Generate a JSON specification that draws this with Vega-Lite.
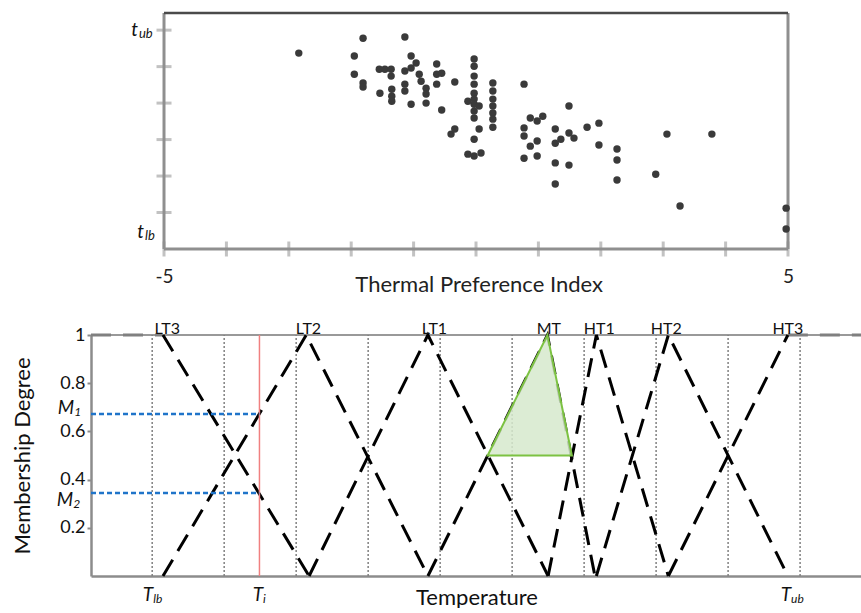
{
  "$schema": "https://vega.github.io/schema/vega-lite/v6.json",
  "padding": {"left": 11, "top": 11, "right": 0, "bottom": 0},
  "bounds": "flush",
  "spacing": 86,
  "config": {"view": {"stroke": null}, "font": "Lato", "axis": {"grid": false}},
  "datasets": {
    "pts": [
      {"tpi": -2.84, "temp": 5.37}, {"tpi": -1.81, "temp": 5.78}, {"tpi": -1.14, "temp": 5.81}, {"tpi": -1.95, "temp": 5.29},
      {"tpi": -1.95, "temp": 4.79}, {"tpi": -1.81, "temp": 4.55}, {"tpi": -1.81, "temp": 4.44}, {"tpi": -1.54, "temp": 4.27},
      {"tpi": -1.55, "temp": 4.93}, {"tpi": -1.46, "temp": 4.93}, {"tpi": -1.36, "temp": 4.93}, {"tpi": -1.36, "temp": 4.74},
      {"tpi": -1.35, "temp": 4.38}, {"tpi": -1.35, "temp": 4.19}, {"tpi": -1.35, "temp": 4.05}, {"tpi": -1.14, "temp": 4.88},
      {"tpi": -1.14, "temp": 4.52}, {"tpi": -1.14, "temp": 4.33}, {"tpi": -1.04, "temp": 5.29}, {"tpi": -1.04, "temp": 4.96},
      {"tpi": -1.04, "temp": 3.97}, {"tpi": -0.96, "temp": 5.10}, {"tpi": -0.91, "temp": 4.79}, {"tpi": -0.88, "temp": 4.60},
      {"tpi": -0.80, "temp": 4.41}, {"tpi": -0.80, "temp": 4.25}, {"tpi": -0.80, "temp": 4.00}, {"tpi": -0.63, "temp": 5.07},
      {"tpi": -0.63, "temp": 4.79}, {"tpi": -0.63, "temp": 4.52}, {"tpi": -0.55, "temp": 4.82}, {"tpi": -0.34, "temp": 4.58},
      {"tpi": -0.55, "temp": 3.81}, {"tpi": -0.40, "temp": 3.15}, {"tpi": -0.34, "temp": 3.29}, {"tpi": -0.03, "temp": 5.21},
      {"tpi": -0.03, "temp": 5.01}, {"tpi": -0.03, "temp": 4.74}, {"tpi": -0.03, "temp": 4.52}, {"tpi": -0.03, "temp": 4.27},
      {"tpi": -0.03, "temp": 4.11}, {"tpi": -0.03, "temp": 3.97}, {"tpi": -0.03, "temp": 3.78}, {"tpi": -0.03, "temp": 3.59},
      {"tpi": -0.13, "temp": 4.05}, {"tpi": 0.05, "temp": 3.92}, {"tpi": 0.05, "temp": 3.29}, {"tpi": -0.03, "temp": 3.01},
      {"tpi": -0.13, "temp": 2.60}, {"tpi": -0.03, "temp": 2.55}, {"tpi": 0.08, "temp": 2.63}, {"tpi": 0.27, "temp": 4.55},
      {"tpi": 0.27, "temp": 4.33}, {"tpi": 0.27, "temp": 4.11}, {"tpi": 0.27, "temp": 3.92}, {"tpi": 0.27, "temp": 3.73},
      {"tpi": 0.27, "temp": 3.56}, {"tpi": 0.27, "temp": 3.34}, {"tpi": 0.77, "temp": 4.52}, {"tpi": 0.87, "temp": 3.59},
      {"tpi": 0.98, "temp": 3.51}, {"tpi": 1.07, "temp": 3.64}, {"tpi": 0.77, "temp": 3.32}, {"tpi": 0.77, "temp": 3.10},
      {"tpi": 0.77, "temp": 2.49}, {"tpi": 0.87, "temp": 2.82}, {"tpi": 0.98, "temp": 2.96}, {"tpi": 0.98, "temp": 2.55},
      {"tpi": 1.27, "temp": 3.29}, {"tpi": 1.27, "temp": 2.90}, {"tpi": 1.27, "temp": 2.36}, {"tpi": 1.27, "temp": 1.78},
      {"tpi": 1.36, "temp": 3.01}, {"tpi": 1.49, "temp": 3.92}, {"tpi": 1.49, "temp": 3.18}, {"tpi": 1.57, "temp": 3.04},
      {"tpi": 1.49, "temp": 2.30}, {"tpi": 1.78, "temp": 3.34}, {"tpi": 1.97, "temp": 3.45}, {"tpi": 1.97, "temp": 2.85},
      {"tpi": 2.26, "temp": 2.74}, {"tpi": 2.26, "temp": 2.44}, {"tpi": 2.26, "temp": 1.89}, {"tpi": 2.88, "temp": 2.05},
      {"tpi": 3.06, "temp": 3.15}, {"tpi": 3.27, "temp": 1.18}, {"tpi": 3.78, "temp": 3.15}, {"tpi": 4.97, "temp": 1.12},
      {"tpi": 4.97, "temp": 0.55}
    ],
    "ytick": [{"v": 1}, {"v": 2}, {"v": 3}, {"v": 4}, {"v": 5}, {"v": 6}],
    "xtick": [{"v": -5}, {"v": -4}, {"v": -3}, {"v": -2}, {"v": -1}, {"v": 0}, {"v": 1}, {"v": 2}, {"v": 3}, {"v": 4}, {"v": 5}],
    "tlab": [
      {"lx": -5.417, "ly": 5.84, "main": "t", "sub": "ub"},
      {"lx": -5.32, "ly": 0.30, "main": "t", "sub": "lb"}
    ],
    "vlines": [{"t": 0}, {"t": 1}, {"t": 2}, {"t": 3}, {"t": 4}, {"t": 5}, {"t": 6}, {"t": 7}, {"t": 8}, {"t": 9}],
    "shoulders": [{"t": -0.85, "t2": 0.15}, {"t": 8.83, "t2": 9.86}],
    "mf": [
      {"f": "LT3", "t": 0.15, "m": 1}, {"f": "LT3", "t": 2.18, "m": 0},
      {"f": "LT2", "t": 0.15, "m": 0}, {"f": "LT2", "t": 2.14, "m": 1}, {"f": "LT2", "t": 3.83, "m": 0},
      {"f": "LT1", "t": 2.18, "m": 0}, {"f": "LT1", "t": 3.83, "m": 1}, {"f": "LT1", "t": 5.5, "m": 0},
      {"f": "MT", "t": 3.83, "m": 0}, {"f": "MT", "t": 5.49, "m": 1}, {"f": "MT", "t": 6.15, "m": 0},
      {"f": "HT1", "t": 5.5, "m": 0}, {"f": "HT1", "t": 6.17, "m": 1}, {"f": "HT1", "t": 7.17, "m": 0},
      {"f": "HT2", "t": 6.17, "m": 0}, {"f": "HT2", "t": 7.17, "m": 1}, {"f": "HT2", "t": 8.83, "m": 0},
      {"f": "HT3", "t": 7.17, "m": 0}, {"f": "HT3", "t": 8.83, "m": 1}
    ],
    "mlines": [{"m": 0.672}, {"m": 0.344}],
    "tri": [{"t": 4.66, "m": 0.5}, {"t": 5.49, "m": 1}, {"t": 5.83, "m": 0.5}],
    "mflab": [
      {"name": "LT3", "t": 0.21}, {"name": "LT2", "t": 2.17}, {"name": "LT1", "t": 3.92}, {"name": "MT", "t": 5.51},
      {"name": "HT1", "t": 6.21}, {"name": "HT2", "t": 7.14}, {"name": "HT3", "t": 8.83}
    ],
    "blab": [
      {"t": 0.014, "m": -0.104, "main": "T", "sub": "lb"},
      {"t": 1.54, "m": -0.104, "main": "T", "sub": "i"},
      {"t": 8.875, "m": -0.104, "main": "T", "sub": "ub"},
      {"t": -1.083, "m": 0.672, "main": "M", "sub": "1"},
      {"t": -1.097, "m": 0.29, "main": "M", "sub": "2"}
    ]
  },
  "vconcat": [
    {
      "width": 697,
      "height": 236,
      "layer": [
        {
          "data": {"name": "ytick"},
          "mark": {"type": "tick", "orient": "horizontal", "color": "#a8a8a8", "size": 15, "thickness": 3},
          "encoding": {
            "x": {"datum": -5, "type": "quantitative", "scale": {"domain": [-6.17, 5], "nice": false}, "axis": {"values": [-5, 5], "labelExpr": "datum.value < 0 ? '-5' : '5'", "domain": false, "ticks": false, "labelFlush": false, "labelFontSize": 19, "labelPadding": 18, "labelColor": "#222", "title": null}},
            "y": {"field": "v", "type": "quantitative", "scale": {"domain": [0, 6.47], "nice": false}, "axis": null}
          }
        },
        {
          "data": {"name": "xtick"},
          "mark": {"type": "tick", "orient": "vertical", "color": "#a8a8a8", "size": 15, "thickness": 3},
          "encoding": {
            "x": {"field": "v", "type": "quantitative", "scale": {"domain": [-6.17, 5], "nice": false}, "axis": {"values": [-5, 5], "labelExpr": "datum.value < 0 ? '-5' : '5'", "domain": false, "ticks": false, "labelFlush": false, "labelFontSize": 19, "labelPadding": 18, "labelColor": "#222", "title": null}},
            "y": {"datum": 0, "type": "quantitative", "scale": {"domain": [0, 6.47], "nice": false}, "axis": null}
          }
        },
        {
          "data": {"values": [{"a": -5}, {"a": 5}]},
          "mark": {"type": "rule", "color": "#8f8f8f", "strokeWidth": 3},
          "encoding": {
            "x": {"field": "a", "type": "quantitative", "scale": {"domain": [-6.17, 5], "nice": false}, "axis": {"values": [-5, 5], "labelExpr": "datum.value < 0 ? '-5' : '5'", "domain": false, "ticks": false, "labelFlush": false, "labelFontSize": 19, "labelPadding": 18, "labelColor": "#222", "title": null}},
            "y": {"datum": 0, "type": "quantitative", "scale": {"domain": [0, 6.47], "nice": false}, "axis": null},
            "y2": {"datum": 6.47}
          }
        },
        {
          "data": {"values": [{}]},
          "mark": {"type": "rule", "color": "#8f8f8f", "strokeWidth": 3},
          "encoding": {
            "x": {"datum": -5, "type": "quantitative", "scale": {"domain": [-6.17, 5], "nice": false}, "axis": {"values": [-5, 5], "labelExpr": "datum.value < 0 ? '-5' : '5'", "domain": false, "ticks": false, "labelFlush": false, "labelFontSize": 19, "labelPadding": 18, "labelColor": "#222", "title": null}},
            "x2": {"datum": 5},
            "y": {"datum": 0, "type": "quantitative", "scale": {"domain": [0, 6.47], "nice": false}, "axis": null}
          }
        },
        {
          "data": {"values": [{}]},
          "mark": {"type": "rule", "color": "#4a4a4a", "strokeWidth": 2.5},
          "encoding": {
            "x": {"datum": -5, "type": "quantitative", "scale": {"domain": [-6.17, 5], "nice": false}, "axis": {"values": [-5, 5], "labelExpr": "datum.value < 0 ? '-5' : '5'", "domain": false, "ticks": false, "labelFlush": false, "labelFontSize": 19, "labelPadding": 18, "labelColor": "#222", "title": null}},
            "x2": {"datum": 5},
            "y": {"datum": 6.47, "type": "quantitative", "scale": {"domain": [0, 6.47], "nice": false}, "axis": null}
          }
        },
        {
          "data": {"name": "pts"},
          "mark": {"type": "circle", "color": "#3a3a3a", "size": 55, "opacity": 1},
          "encoding": {
            "x": {"field": "tpi", "type": "quantitative", "scale": {"domain": [-6.17, 5], "nice": false}, "axis": {"values": [-5, 5], "labelExpr": "datum.value < 0 ? '-5' : '5'", "domain": false, "ticks": false, "labelFlush": false, "labelFontSize": 19, "labelPadding": 18, "labelColor": "#222", "title": null}},
            "y": {"field": "temp", "type": "quantitative", "scale": {"domain": [0, 6.47], "nice": false}, "axis": null}
          }
        },
        {
          "data": {"name": "tlab"},
          "mark": {"type": "text", "align": "right", "baseline": "alphabetic", "fontSize": 19, "fontStyle": "italic", "color": "#111"},
          "encoding": {
            "x": {"field": "lx", "type": "quantitative", "scale": {"domain": [-6.17, 5], "nice": false}, "axis": {"values": [-5, 5], "labelExpr": "datum.value < 0 ? '-5' : '5'", "domain": false, "ticks": false, "labelFlush": false, "labelFontSize": 19, "labelPadding": 18, "labelColor": "#222", "title": null}},
            "y": {"field": "ly", "type": "quantitative", "scale": {"domain": [0, 6.47], "nice": false}, "axis": null},
            "text": {"field": "main"}
          }
        },
        {
          "data": {"name": "tlab"},
          "mark": {"type": "text", "align": "left", "baseline": "alphabetic", "fontSize": 13, "fontStyle": "italic", "color": "#111", "dx": 1, "dy": 2},
          "encoding": {
            "x": {"field": "lx", "type": "quantitative", "scale": {"domain": [-6.17, 5], "nice": false}, "axis": {"values": [-5, 5], "labelExpr": "datum.value < 0 ? '-5' : '5'", "domain": false, "ticks": false, "labelFlush": false, "labelFontSize": 19, "labelPadding": 18, "labelColor": "#222", "title": null}},
            "y": {"field": "ly", "type": "quantitative", "scale": {"domain": [0, 6.47], "nice": false}, "axis": null},
            "text": {"field": "sub"}
          }
        },
        {
          "data": {"values": [{"label": "Thermal Preference Index"}]},
          "mark": {"type": "text", "align": "center", "baseline": "middle", "fontSize": 22, "color": "#222"},
          "encoding": {
            "x": {"datum": 0.05, "type": "quantitative", "scale": {"domain": [-6.17, 5], "nice": false}, "axis": {"values": [-5, 5], "labelExpr": "datum.value < 0 ? '-5' : '5'", "domain": false, "ticks": false, "labelFlush": false, "labelFontSize": 19, "labelPadding": 18, "labelColor": "#222", "title": null}},
            "y": {"datum": -0.98, "type": "quantitative", "scale": {"domain": [0, 6.47], "nice": false}, "axis": null},
            "text": {"field": "label"}
          }
        }
      ]
    },
    {
      "width": 771,
      "height": 241,
      "layer": [
        {
          "data": {"values": [{}]},
          "mark": {"type": "rule", "color": "#999999", "strokeWidth": 2},
          "encoding": {
            "x": {"datum": -0.85, "type": "quantitative", "scale": {"domain": [-0.85, 9.86], "nice": false}, "axis": {"domainColor": "#8c8c8c", "domainWidth": 2.5, "ticks": false, "labels": false, "title": "Temperature", "titleFontSize": 22, "titleFontWeight": "normal", "titleColor": "#111", "titlePadding": 11}},
            "x2": {"datum": 9.86},
            "y": {"datum": 1, "type": "quantitative", "scale": {"domain": [0, 1], "nice": false}, "axis": {"values": [0.2, 0.4, 0.6, 0.8, 1], "labelExpr": "datum.value == 1 ? '1' : format(datum.value, '.1f')", "domainColor": "#8c8c8c", "domainWidth": 2.5, "tickColor": "#8c8c8c", "tickSize": 4, "tickWidth": 2, "labelFontSize": 18, "labelColor": "#111", "labelPadding": 2, "title": "Membership Degree", "titleFontSize": 22, "titleFontWeight": "normal", "titleColor": "#111", "titlePadding": 25}}
          }
        },
        {
          "data": {"name": "vlines"},
          "mark": {"type": "rule", "color": "#808080", "strokeWidth": 1.5, "strokeDash": [2, 2]},
          "encoding": {
            "x": {"field": "t", "type": "quantitative", "scale": {"domain": [-0.85, 9.86], "nice": false}, "axis": {"domainColor": "#8c8c8c", "domainWidth": 2.5, "ticks": false, "labels": false, "title": "Temperature", "titleFontSize": 22, "titleFontWeight": "normal", "titleColor": "#111", "titlePadding": 11}},
            "y": {"datum": 0, "type": "quantitative", "scale": {"domain": [0, 1], "nice": false}, "axis": {"values": [0.2, 0.4, 0.6, 0.8, 1], "labelExpr": "datum.value == 1 ? '1' : format(datum.value, '.1f')", "domainColor": "#8c8c8c", "domainWidth": 2.5, "tickColor": "#8c8c8c", "tickSize": 4, "tickWidth": 2, "labelFontSize": 18, "labelColor": "#111", "labelPadding": 2, "title": "Membership Degree", "titleFontSize": 22, "titleFontWeight": "normal", "titleColor": "#111", "titlePadding": 25}},
            "y2": {"datum": 1}
          }
        },
        {
          "data": {"name": "shoulders"},
          "mark": {"type": "rule", "color": "#808080", "strokeWidth": 3, "strokeDash": [20, 12]},
          "encoding": {
            "x": {"field": "t", "type": "quantitative", "scale": {"domain": [-0.85, 9.86], "nice": false}, "axis": {"domainColor": "#8c8c8c", "domainWidth": 2.5, "ticks": false, "labels": false, "title": "Temperature", "titleFontSize": 22, "titleFontWeight": "normal", "titleColor": "#111", "titlePadding": 11}},
            "x2": {"field": "t2"},
            "y": {"datum": 1, "type": "quantitative", "scale": {"domain": [0, 1], "nice": false}, "axis": {"values": [0.2, 0.4, 0.6, 0.8, 1], "labelExpr": "datum.value == 1 ? '1' : format(datum.value, '.1f')", "domainColor": "#8c8c8c", "domainWidth": 2.5, "tickColor": "#8c8c8c", "tickSize": 4, "tickWidth": 2, "labelFontSize": 18, "labelColor": "#111", "labelPadding": 2, "title": "Membership Degree", "titleFontSize": 22, "titleFontWeight": "normal", "titleColor": "#111", "titlePadding": 25}}
          }
        },
        {
          "data": {"name": "mf"},
          "mark": {"type": "line", "color": "#000000", "strokeWidth": 3, "strokeDash": [19, 10]},
          "encoding": {
            "x": {"field": "t", "type": "quantitative", "scale": {"domain": [-0.85, 9.86], "nice": false}, "axis": {"domainColor": "#8c8c8c", "domainWidth": 2.5, "ticks": false, "labels": false, "title": "Temperature", "titleFontSize": 22, "titleFontWeight": "normal", "titleColor": "#111", "titlePadding": 11}},
            "y": {"field": "m", "type": "quantitative", "scale": {"domain": [0, 1], "nice": false}, "axis": {"values": [0.2, 0.4, 0.6, 0.8, 1], "labelExpr": "datum.value == 1 ? '1' : format(datum.value, '.1f')", "domainColor": "#8c8c8c", "domainWidth": 2.5, "tickColor": "#8c8c8c", "tickSize": 4, "tickWidth": 2, "labelFontSize": 18, "labelColor": "#111", "labelPadding": 2, "title": "Membership Degree", "titleFontSize": 22, "titleFontWeight": "normal", "titleColor": "#111", "titlePadding": 25}},
            "detail": {"field": "f"}
          }
        },
        {
          "data": {"values": [{}]},
          "mark": {"type": "rule", "color": "#f08080", "strokeWidth": 1.5},
          "encoding": {
            "x": {"datum": 1.49, "type": "quantitative", "scale": {"domain": [-0.85, 9.86], "nice": false}, "axis": {"domainColor": "#8c8c8c", "domainWidth": 2.5, "ticks": false, "labels": false, "title": "Temperature", "titleFontSize": 22, "titleFontWeight": "normal", "titleColor": "#111", "titlePadding": 11}},
            "y": {"datum": 0, "type": "quantitative", "scale": {"domain": [0, 1], "nice": false}, "axis": {"values": [0.2, 0.4, 0.6, 0.8, 1], "labelExpr": "datum.value == 1 ? '1' : format(datum.value, '.1f')", "domainColor": "#8c8c8c", "domainWidth": 2.5, "tickColor": "#8c8c8c", "tickSize": 4, "tickWidth": 2, "labelFontSize": 18, "labelColor": "#111", "labelPadding": 2, "title": "Membership Degree", "titleFontSize": 22, "titleFontWeight": "normal", "titleColor": "#111", "titlePadding": 25}},
            "y2": {"datum": 1}
          }
        },
        {
          "data": {"name": "mlines"},
          "mark": {"type": "rule", "color": "#1f74c9", "strokeWidth": 2.5, "strokeDash": [5, 3]},
          "encoding": {
            "x": {"datum": -0.85, "type": "quantitative", "scale": {"domain": [-0.85, 9.86], "nice": false}, "axis": {"domainColor": "#8c8c8c", "domainWidth": 2.5, "ticks": false, "labels": false, "title": "Temperature", "titleFontSize": 22, "titleFontWeight": "normal", "titleColor": "#111", "titlePadding": 11}},
            "x2": {"datum": 1.49},
            "y": {"field": "m", "type": "quantitative", "scale": {"domain": [0, 1], "nice": false}, "axis": {"values": [0.2, 0.4, 0.6, 0.8, 1], "labelExpr": "datum.value == 1 ? '1' : format(datum.value, '.1f')", "domainColor": "#8c8c8c", "domainWidth": 2.5, "tickColor": "#8c8c8c", "tickSize": 4, "tickWidth": 2, "labelFontSize": 18, "labelColor": "#111", "labelPadding": 2, "title": "Membership Degree", "titleFontSize": 22, "titleFontWeight": "normal", "titleColor": "#111", "titlePadding": 25}}
          }
        },
        {
          "data": {"name": "tri"},
          "mark": {"type": "area", "color": "#d6e9cc", "fillOpacity": 0.85, "stroke": "#7cc242", "strokeWidth": 2},
          "encoding": {
            "x": {"field": "t", "type": "quantitative", "scale": {"domain": [-0.85, 9.86], "nice": false}, "axis": {"domainColor": "#8c8c8c", "domainWidth": 2.5, "ticks": false, "labels": false, "title": "Temperature", "titleFontSize": 22, "titleFontWeight": "normal", "titleColor": "#111", "titlePadding": 11}},
            "y": {"field": "m", "type": "quantitative", "scale": {"domain": [0, 1], "nice": false}, "axis": {"values": [0.2, 0.4, 0.6, 0.8, 1], "labelExpr": "datum.value == 1 ? '1' : format(datum.value, '.1f')", "domainColor": "#8c8c8c", "domainWidth": 2.5, "tickColor": "#8c8c8c", "tickSize": 4, "tickWidth": 2, "labelFontSize": 18, "labelColor": "#111", "labelPadding": 2, "title": "Membership Degree", "titleFontSize": 22, "titleFontWeight": "normal", "titleColor": "#111", "titlePadding": 25}},
            "y2": {"datum": 0.5}
          }
        },
        {
          "data": {"name": "mflab"},
          "mark": {"type": "text", "align": "center", "baseline": "alphabetic", "fontSize": 16, "color": "#111", "dy": -1},
          "encoding": {
            "x": {"field": "t", "type": "quantitative", "scale": {"domain": [-0.85, 9.86], "nice": false}, "axis": {"domainColor": "#8c8c8c", "domainWidth": 2.5, "ticks": false, "labels": false, "title": "Temperature", "titleFontSize": 22, "titleFontWeight": "normal", "titleColor": "#111", "titlePadding": 11}},
            "y": {"datum": 1, "type": "quantitative", "scale": {"domain": [0, 1], "nice": false}, "axis": {"values": [0.2, 0.4, 0.6, 0.8, 1], "labelExpr": "datum.value == 1 ? '1' : format(datum.value, '.1f')", "domainColor": "#8c8c8c", "domainWidth": 2.5, "tickColor": "#8c8c8c", "tickSize": 4, "tickWidth": 2, "labelFontSize": 18, "labelColor": "#111", "labelPadding": 2, "title": "Membership Degree", "titleFontSize": 22, "titleFontWeight": "normal", "titleColor": "#111", "titlePadding": 25}},
            "text": {"field": "name"}
          }
        },
        {
          "data": {"name": "blab"},
          "mark": {"type": "text", "align": "right", "baseline": "alphabetic", "fontSize": 19, "fontStyle": "italic", "color": "#111"},
          "encoding": {
            "x": {"field": "t", "type": "quantitative", "scale": {"domain": [-0.85, 9.86], "nice": false}, "axis": {"domainColor": "#8c8c8c", "domainWidth": 2.5, "ticks": false, "labels": false, "title": "Temperature", "titleFontSize": 22, "titleFontWeight": "normal", "titleColor": "#111", "titlePadding": 11}},
            "y": {"field": "m", "type": "quantitative", "scale": {"domain": [0, 1], "nice": false}, "axis": {"values": [0.2, 0.4, 0.6, 0.8, 1], "labelExpr": "datum.value == 1 ? '1' : format(datum.value, '.1f')", "domainColor": "#8c8c8c", "domainWidth": 2.5, "tickColor": "#8c8c8c", "tickSize": 4, "tickWidth": 2, "labelFontSize": 18, "labelColor": "#111", "labelPadding": 2, "title": "Membership Degree", "titleFontSize": 22, "titleFontWeight": "normal", "titleColor": "#111", "titlePadding": 25}},
            "text": {"field": "main"}
          }
        },
        {
          "data": {"name": "blab"},
          "mark": {"type": "text", "align": "left", "baseline": "alphabetic", "fontSize": 12, "fontStyle": "italic", "color": "#111", "dx": 0, "dy": 2},
          "encoding": {
            "x": {"field": "t", "type": "quantitative", "scale": {"domain": [-0.85, 9.86], "nice": false}, "axis": {"domainColor": "#8c8c8c", "domainWidth": 2.5, "ticks": false, "labels": false, "title": "Temperature", "titleFontSize": 22, "titleFontWeight": "normal", "titleColor": "#111", "titlePadding": 11}},
            "y": {"field": "m", "type": "quantitative", "scale": {"domain": [0, 1], "nice": false}, "axis": {"values": [0.2, 0.4, 0.6, 0.8, 1], "labelExpr": "datum.value == 1 ? '1' : format(datum.value, '.1f')", "domainColor": "#8c8c8c", "domainWidth": 2.5, "tickColor": "#8c8c8c", "tickSize": 4, "tickWidth": 2, "labelFontSize": 18, "labelColor": "#111", "labelPadding": 2, "title": "Membership Degree", "titleFontSize": 22, "titleFontWeight": "normal", "titleColor": "#111", "titlePadding": 25}},
            "text": {"field": "sub"}
          }
        }
      ]
    }
  ]
}
